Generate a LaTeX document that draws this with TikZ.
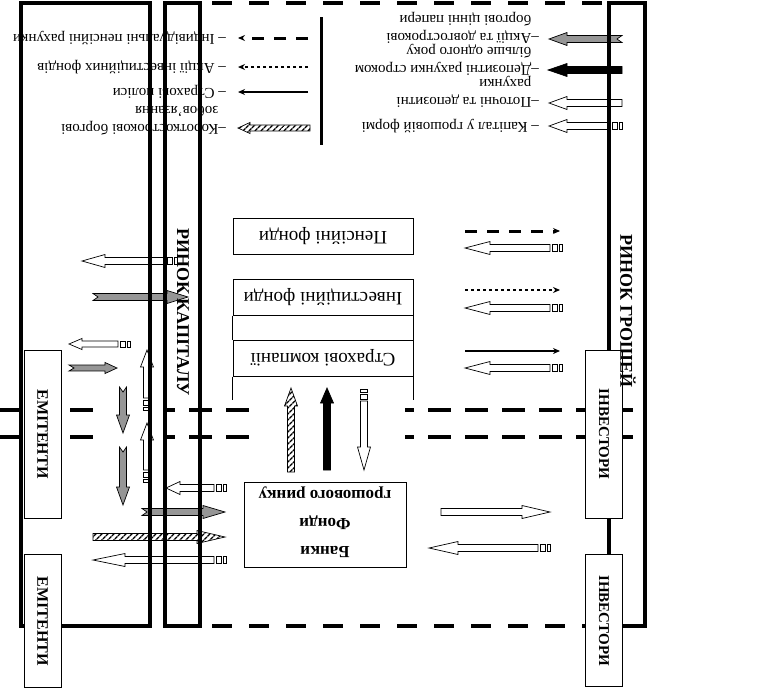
\documentclass[tikz,border=0pt]{standalone}
\usepackage{graphicx}
\usepackage{fontspec}
\setmainfont{Liberation Serif}
\usetikzlibrary{positioning, arrows.meta, patterns.meta}
\definecolor{flowgray}{RGB}{150,150,150}

\begin{document}
\begin{tikzpicture}[
      x=1pt, y=-1pt,
      frame/.style={line width=3.5pt},
      rim/.style={line width=4pt, dash pattern=on 20pt off 17pt},
      divide/.style={line width=4pt, dash pattern=on 23pt off 14pt},
      box/.style={
          rectangle,
          draw,
          fill=white,
          line width=0.8pt,
          inner sep=0pt
        },
      fund/.style={
          box,
          minimum width=180pt,
          minimum height=36pt,
          font=\fontsize{19}{21}\selectfont
        },
      side/.style={
          box,
          minimum width=37pt,
          font=\bfseries\fontsize{15}{16}\selectfont
        },
      market/.style={
          rotate=-90,
          inner sep=0pt,
          font=\bfseries\fontsize{18}{20}\selectfont
        },
      legend/.style={
          rotate=180,
          anchor=base west,
          inner sep=0pt,
          font=\fontsize{15}{18}\selectfont
        },
      tipped/.style={-{Stealth[length=7pt,width=6pt]}},
      dashflow/.style={tipped, line width=3pt, dash pattern=on 12pt off 10pt},
      dotflow/.style={tipped, line width=2.5pt, dash pattern=on 3pt off 3pt},
      lineflow/.style={tipped, line width=2.2pt},
      hollow/.style={draw, fill=white, line width=0.7pt},
      shaded/.style={draw, fill=flowgray, line width=0.7pt},
      inked/.style={draw, fill=black, line width=0.7pt},
      hatched/.style={draw, line width=0.7pt, pattern={Lines[angle=45,distance=4pt,line width=1.4pt]}},
      pics/plain arrow/.style args={#1/#2}{code={
          \path[pic actions] (0,-3.5) -- ({#1-#2},-3.5) -- ({#1-#2},-6.5)
            -- (#1,0) -- ({#1-#2},6.5) -- ({#1-#2},3.5) -- (0,3.5) -- cycle;
        }},
      pics/striped arrow/.style args={#1/#2}{code={
          \path[pic actions] (0,-3.5) rectangle (3,3.5);
          \path[pic actions] (5,-3.5) rectangle (10,3.5);
          \path[pic actions] (12,-3.5) -- ({#1-#2},-3.5) -- ({#1-#2},-6.5)
            -- (#1,0) -- ({#1-#2},6.5) -- ({#1-#2},3.5) -- (12,3.5) -- cycle;
        }},
      pics/notched arrow/.style args={#1/#2}{code={
          \path[pic actions] (0,-3.5) -- ({#1-#2},-3.5) -- ({#1-#2},-6.5)
            -- (#1,0) -- ({#1-#2},6.5) -- ({#1-#2},3.5) -- (0,3.5) -- (5,0) -- cycle;
        }}
    ]
    \useasboundingbox (0,0) rectangle (775,688);

    % Left flows
    \pic[hollow, rotate=180] at (177,261) {striped arrow=95/23};
    \pic[shaded] at (93,297) {notched arrow=95/21};
    \pic[hollow, rotate=180, yscale=0.85] at (130,344) {striped arrow=61/13};
    \pic[shaded, yscale=0.85] at (69,368) {notched arrow=48/12};
    \pic[shaded, rotate=-90] at (123,387) {notched arrow=46/18};
    \pic[shaded, rotate=-90] at (123,447) {notched arrow=58/18};
    \pic[hollow, rotate=90] at (147,410) {striped arrow=60/17};
    \pic[hollow, rotate=90] at (147,482) {striped arrow=59/17};
    \pic[hollow, rotate=180] at (226,488) {striped arrow=60/14};
    \pic[shaded] at (142,512) {notched arrow=83/22};
    \pic[hatched] at (93,537) {plain arrow=132/28};
    \pic[hollow, rotate=180] at (226,560) {striped arrow=133/32};

    % Middle flows
    \pic[hatched, rotate=90] at (291,472) {plain arrow=84/18};
    \pic[inked, rotate=90] at (327,470) {plain arrow=82/15};
    \pic[hollow, rotate=-90] at (364,389) {striped arrow=81/23};
    \draw[dashflow] (465,231) -- (560,231);
    \pic[hollow, rotate=180] at (562,248) {striped arrow=97/25};
    \draw[dotflow] (465,290) -- (560,290);
    \pic[hollow, rotate=180] at (562,308) {striped arrow=97/25};
    \draw[lineflow] (465,351) -- (560,351);
    \pic[hollow, rotate=180] at (562,368) {striped arrow=97/25};
    \pic[hollow] at (441,512) {plain arrow=109/28};
    \pic[hollow, rotate=180] at (550,548) {striped arrow=121/29};

    % Legend
    \draw[dashflow] (308,38) -- (238,38);
    \draw[dotflow] (308,67) -- (238,67);
    \draw[lineflow] (308,92) -- (238,92);
    \pic[hatched, rotate=180, yscale=0.85] at (310,128) {plain arrow=72/12};
    \pic[shaded, rotate=180] at (622,39) {notched arrow=73/18};
    \pic[inked, rotate=180] at (622,70) {plain arrow=74/19};
    \pic[hollow, rotate=180] at (622,103) {plain arrow=73/18};
    \pic[hollow, rotate=180] at (622,126) {striped arrow=73/18};
    \draw[line width=3pt] (321,17) -- (321,145);

    % Markets
    \draw[frame] (21,3) rectangle (150,626);
    \draw[frame] (165,3) rectangle (200,626);
    \draw[frame] (609,3) rectangle (645,626);
    \draw[rim] (212,3) -- (609,3);
    \draw[rim] (212,626) -- (609,626);
    \foreach \y in {410,437} {
        \draw[divide] (-4,\y) -- (93,\y);
        \draw[divide, dash phase=13pt] (165,\y) -- (250,\y);
        \draw[divide, dash phase=14pt] (405,\y) -- (633,\y);
      }

    % Participants
    \node[side, minimum height=168pt, font=\bfseries\fontsize{16}{17}\selectfont] (emitup) at (42.5,434) {\rotatebox{-90}{ЕМІТЕНТИ}};
    \node[side, minimum height=133pt, font=\bfseries\fontsize{16}{17}\selectfont, below=36pt of emitup] (emitlow) {\rotatebox{-90}{ЕМІТЕНТИ}};
    \node[side, minimum height=168pt] (invup) at (604,434) {\rotatebox{-90}{ІНВЕСТОРИ}};
    \node[side, minimum height=132pt, below=36pt of invup] (invlow) {\rotatebox{-90}{ІНВЕСТОРИ}};

    % Intermediaries
    \node[fund] (pension) at (323,236.5) {\rotatebox{180}{Пенсійні фонди}};
    \node[fund, below=24pt of pension] (invest) {\rotatebox{180}{Інвестиційні фонди}};
    \node[fund, below=24pt of invest] (insur) {\rotatebox{180}{Страхові компанії}};
    \draw[line width=0.8pt] (invest.south west) -- (insur.north west)
      (invest.south east) -- (insur.north east)
      (insur.south west) -- ++(0,23)
      (insur.south east) -- ++(0,23);
    \node[box, minimum width=162pt, minimum height=85pt, font=\bfseries\fontsize{17}{28}\selectfont] (banks) at (325,524.5)
      {\rotatebox{180}{\begin{tabular}{@{}c@{}}Банки\\Фонди\\грошового ринку\end{tabular}}};

    \node[market] (capital) at (183,312) {РИНОК КАПІТАЛУ};
    \node[market] (money) at (628,311) {РИНОК ГРОШЕЙ};

    % Legend texts
    \node[legend] (leg1) at (226,34.5) {– Індивідуальні пенсійні рахунки};
    \node[legend] (leg2) at (226,63) {– Акції інвестиційних фондів};
    \node[legend] (leg3) at (226,88.5) {– Страхові поліси};
    \node[legend] (leg4) at (226,124) {\begin{tabular}[t]{@{}l@{}l@{}}–\ &Короткострокові боргові\\ &зобов’язання\end{tabular}};
    \node[legend] (leg5) at (539,33) {\begin{tabular}[t]{@{}l@{}l@{}}–\ &Акції та довгострокові\\ &боргові цінні папери\end{tabular}};
    \node[legend] (leg6) at (539,65) {\begin{tabular}[t]{@{}l@{}l@{}}–\ &Депозитні рахунки строком\\ &більше одного року\end{tabular}};
    \node[legend] (leg7) at (539,97) {\begin{tabular}[t]{@{}l@{}l@{}}–\ &Поточні та депозитні\\ &рахунки\end{tabular}};
    \node[legend] (leg8) at (539,122) {– Капітал у грошовій формі};
  \end{tikzpicture}
\end{document}
